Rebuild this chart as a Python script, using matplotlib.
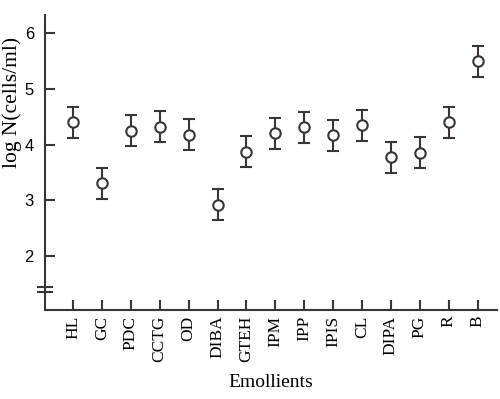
import matplotlib.pyplot as plt

emollients = ["HL", "GC", "PDC", "CCTG", "OD", "DIBA", "GTEH", "IPM",
              "IPP", "IPIS", "CL", "DIPA", "PG", "R", "B"]
log_n = [4.40, 3.30, 4.25, 4.32, 4.18, 2.92, 3.87, 4.20,
         4.31, 4.17, 4.35, 3.77, 3.85, 4.40, 5.50]
err = [0.28, 0.28, 0.28, 0.28, 0.28, 0.28, 0.28, 0.28,
       0.28, 0.28, 0.28, 0.28, 0.28, 0.28, 0.28]

ink = "#3a3436"
serif = ["Liberation Serif", "DejaVu Serif"]
sans = ["Liberation Sans", "DejaVu Sans"]

fig = plt.figure(figsize=(5, 3.99), dpi=100)
ax = fig.add_axes([0.09, 0.223, 0.904, 0.739])

x = list(range(len(emollients)))
ax.errorbar(x, log_n, yerr=err, fmt="o", color=ink, mfc="white", mec=ink,
            ms=7.5, mew=1.5, elinewidth=1.5, capsize=4.5, capthick=1.5)

ax.set_xlim(-0.97, 14.67)
ax.set_ylim(1.02, 6.33)
ax.set_yticks([2, 3, 4, 5, 6])
ax.set_xticks(x)
ax.set_xticklabels(emollients, rotation=90, family=serif, fontsize=12.5)
for lab in ax.get_yticklabels():
    lab.set_family(sans)
    lab.set_fontsize(12)

for side in ["top", "right"]:
    ax.spines[side].set_visible(False)
for side in ["left", "bottom"]:
    ax.spines[side].set_color(ink)
    ax.spines[side].set_linewidth(1.5)
ax.tick_params(direction="in", length=7, width=1.5, color=ink, labelcolor="black")
ax.tick_params(axis="y", pad=8)
ax.tick_params(axis="x", pad=4)

# axis break marks on y axis
for yb in [1.35, 1.44]:
    ax.plot([-0.015, 0.015], [yb, yb], transform=ax.get_yaxis_transform(),
            color=ink, lw=1.5, clip_on=False)

ax.set_ylabel("log N(cells/ml)", family=serif, fontsize=15.5)
ax.yaxis.set_label_coords(-0.05, 0.705)
ax.set_xlabel("Emollients", family=serif, fontsize=14, labelpad=9)

plt.savefig("out.png", dpi=100)
